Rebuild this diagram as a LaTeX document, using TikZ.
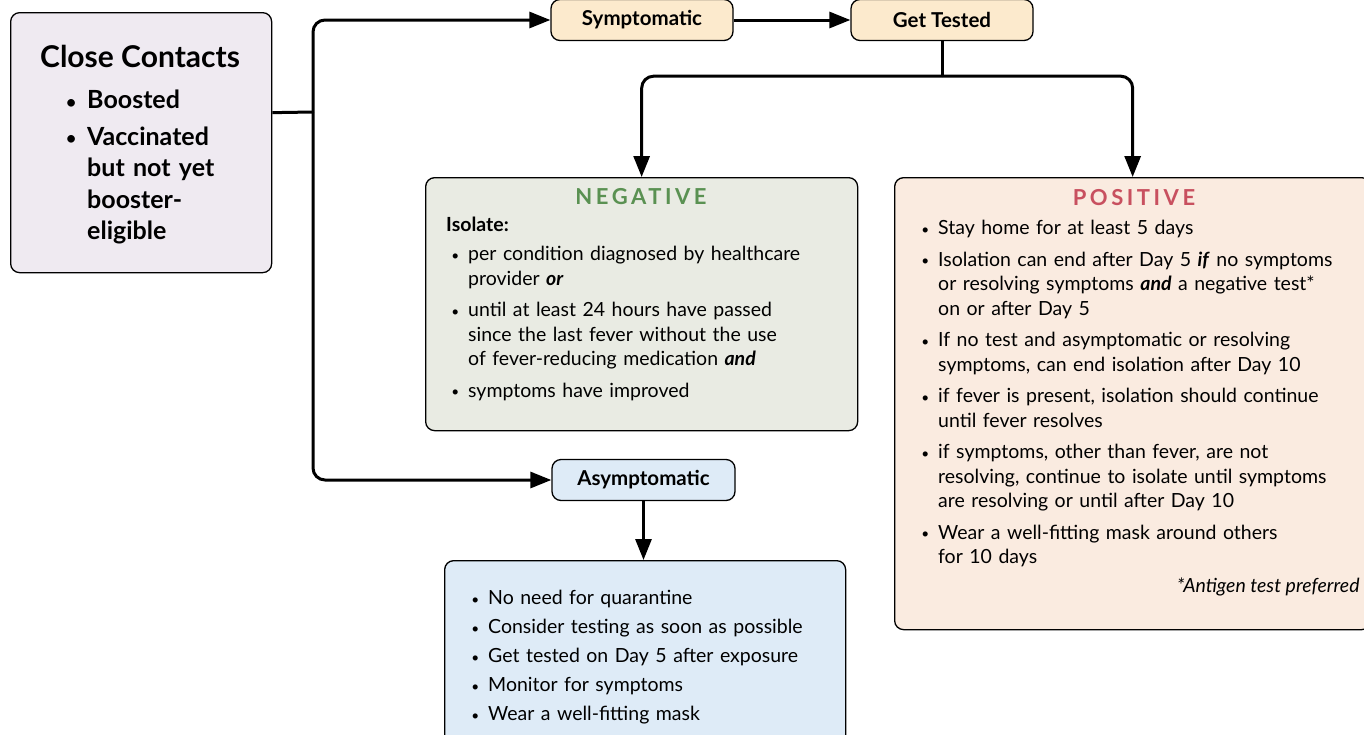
\documentclass[tikz,border=0pt]{standalone}
\usepackage{fontspec}
\setmainfont{Lato}
\usepackage{enumitem}
\usetikzlibrary{arrows.meta,positioning}

\definecolor{ccfill}{HTML}{EFEAF1}
\definecolor{symfill}{HTML}{FCEACD}
\definecolor{negfill}{HTML}{E9EBE3}
\definecolor{posfill}{HTML}{FAEBE0}
\definecolor{asymfill}{HTML}{DEEBF7}
\definecolor{negcol}{HTML}{5A9152}
\definecolor{poscol}{HTML}{C8505F}

\newcommand{\bodyfont}{\fontsize{19.5}{24.5}\selectfont}
\newcommand{\spaced}{\addfontfeature{LetterSpace=16}}
\newcommand{\dotmark}{\raisebox{0.5pt}{\scalebox{0.7}{\textbullet}}}
\setlist[itemize]{label={\dotmark}, leftmargin=16pt, labelsep=9pt,
  topsep=0pt, partopsep=0pt, parsep=0pt, itemsep=6pt}

\begin{document}
\begin{tikzpicture}[x=1pt,y=-1pt,
  box/.style={draw, line width=1.3pt, rounded corners=9pt, inner sep=0pt},
  smallbox/.style={box, minimum width=182pt, minimum height=41pt, font=\fontsize{20.5}{24}\selectfont\bfseries},
  title/.style={font=\fontsize{22}{26}\selectfont\bfseries\spaced, anchor=base},
  list/.style={anchor=north west, inner sep=0pt, font=\bodyfont, align=left},
  link/.style={line width=3pt},
  arrow/.style={line width=3pt, -{Triangle[length=21pt,width=16pt]}}]
\useasboundingbox (0,0) rectangle (1364,734);

% boxes
\node[box, fill=ccfill, anchor=north west, minimum width=261pt, minimum height=260pt] (cc) at (10,12) {};
\node[smallbox, fill=symfill] (sym) at (642,20) {Symptomatic};
\node[smallbox, fill=symfill] (gt) at (942,20) {Get Tested};
\node[smallbox, fill=asymfill, minimum width=183pt] (asym) at (643.5,480) {Asymptomatic};
\node[box, fill=negfill, anchor=north west, minimum width=432pt, minimum height=253pt] (neg) at (425,177) {};
\node[box, fill=posfill, anchor=north west, minimum width=476pt, minimum height=452pt] (pos) at (894,177) {};
\node[box, fill=asymfill, anchor=north west, minimum width=401pt, minimum height=190pt] (asymlist) at (444,560) {};

% close contacts text
\node[font=\fontsize{30}{34}\selectfont\bfseries, anchor=base] (cctitle) at (140,67) {Close Contacts};
\node[list, font=\fontsize{25}{31.5}\selectfont\bfseries, text width=190pt] (cctext) at (60,77) {%
  \begin{itemize}[leftmargin=27pt, labelsep=11pt, itemsep=5pt]
  \item Boosted
  \item Vaccinated\\ but not yet\\ booster-\\ eligible
  \end{itemize}};

% negative text
\node[title, text=negcol] (negtitle) at (641,204) {NEGATIVE};
\node[list, font=\bodyfont\bfseries] (isolate) at (446,217) {Isolate:};
\node[list, text width=390pt] (negtext) at (452,236) {%
  \begin{itemize}[itemsep=7pt]
  \item per condition diagnosed by healthcare\\ provider \textbf{\textit{or}}
  \item until at least 24 hours have passed\\ since the last fever without the use\\ of fever-reducing medication \textbf{\textit{and}}
  \item symptoms have improved
  \end{itemize}};

% positive text
\node[title, text=poscol] (postitle) at (1134,205) {POSITIVE};
\node[list, text width=440pt] (postext) at (922,210) {%
  \begin{itemize}[itemsep=7pt]
  \item Stay home for at least 5 days
  \item Isolation can end after Day 5 \textbf{\textit{if}} no symptoms\\ or resolving symptoms \textbf{\textit{and}} a negative test*\\ on or after Day 5
  \item If no test and asymptomatic or resolving\\ symptoms, can end isolation after Day 10
  \item if fever is present, isolation should continue\\ until fever resolves
  \item if symptoms, other than fever, are not\\ resolving, continue to isolate until symptoms\\ are resolving or until after Day 10
  \item Wear a well-fitting mask around others\\ for 10 days
  \end{itemize}};
\node[font=\bodyfont\itshape, anchor=base east] (note) at (1363,592) {*Antigen test preferred};

% asymptomatic text
\node[list, text width=380pt] (asymtext) at (472,580) {%
  \begin{itemize}[leftmargin=16pt, itemsep=4.5pt]
  \item No need for quarantine
  \item Consider testing as soon as possible
  \item Get tested on Day 5 after exposure
  \item Monitor for symptoms
  \item Wear a well-fitting mask
  \end{itemize}};

% connectors
\coordinate (split) at (313,112);
\draw[link] ([yshift=30pt]cc.east) -- (split);
\draw[arrow, rounded corners=12pt] (split) |- (sym.west);
\draw[arrow, rounded corners=12pt] (split) |- (asym.west);
\draw[arrow] (sym.east) -- (gt.west);
\draw[link] (gt.south) -- ++(0,35) coordinate (fork);
\draw[arrow, rounded corners=12pt] (fork) -| (neg.north);
\draw[arrow, rounded corners=12pt] (fork) -| (pos.north);
\draw[arrow] (asym.south) -- (asymlist.north -| asym.south);
\end{tikzpicture}
\end{document}
